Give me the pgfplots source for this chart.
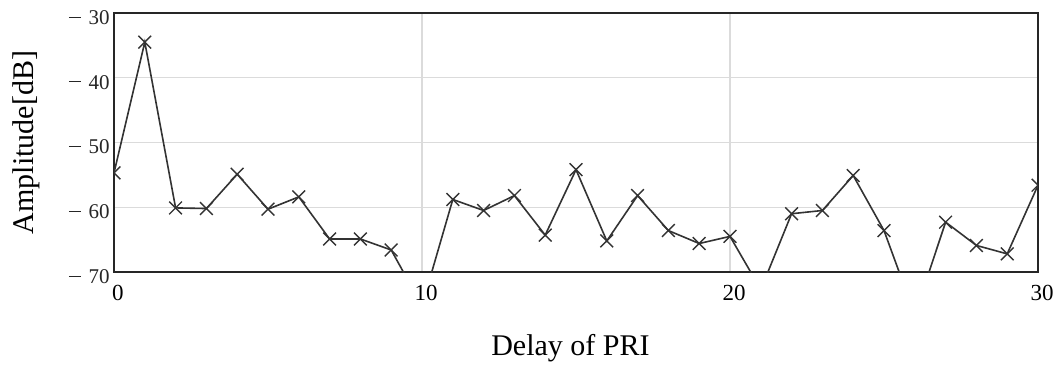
\documentclass[border=0pt]{standalone}
\usepackage{fontspec}
\setmainfont{Liberation Serif}
\usepackage{pgfplots}
\pgfplotsset{compat=1.18}

% amplitude of the correlation versus delay, in PRI steps
\pgfplotstableread{
d amp
0 -54.7
1 -34.5
2 -60.1
3 -60.2
4 -54.9
5 -60.3
6 -58.4
7 -64.9
8 -64.9
9 -66.6
10 -75.2
11 -58.8
12 -60.5
13 -58.2
14 -64.3
15 -54.2
16 -65.2
17 -58.2
18 -63.6
19 -65.6
20 -64.5
21 -72.7
22 -61.0
23 -60.5
24 -55.1
25 -63.6
26 -76.6
27 -62.3
28 -65.9
29 -67.2
30 -56.6
}\ampdata

% long minus sign followed by a gap, as in the tick labels
\newcommand{\negval}[1]{\rule[3.3pt]{5.8pt}{0.55pt}\hspace{4pt}#1}

\begin{document}
\begin{tikzpicture}
\begin{axis}[
  scale only axis,
  width=462pt, height=129.5pt,
  xmin=0, xmax=30, ymin=-70, ymax=-30,
  xtick={0,10,20,30},
  xticklabels={0,10,20,30},
  ytick={-70,-60,-50,-40,-30},
  yticklabels={\negval{70},\negval{60},\negval{50},\negval{40},\negval{30}},
  major tick length=0pt,
  grid=major,
  major grid style={draw=black!14, line width=0.6pt},
  axis line style={draw=black!85, line width=1pt},
  xticklabel style={font=\fontsize{11.5}{13}\selectfont,
    inner sep=0pt, anchor=north, yshift=-6.5pt, xshift=2pt},
  yticklabel style={font=\fontsize{10.5}{12}\selectfont, text=black!85,
    inner sep=0pt, anchor=east, xshift=-2pt, yshift=-2.2pt},
  label style={font=\fontsize{15}{18}\selectfont},
  xlabel={Delay of PRI},
  ylabel={Amplitude[dB]},
  xlabel style={at={(axis description cs:0.494,-0.293)}, anchor=center},
  ylabel style={at={(axis description cs:-0.0952,0.5)}, anchor=center, rotate=0},
  clip marker paths=true,
]
\addplot[color=black!80, line width=0.8pt, mark=x, mark size=4.5pt,
  mark options={line width=0.7pt}] table[x=d, y=amp] {\ampdata};
\end{axis}
\pgfresetboundingbox
\path[use as bounding box] ([shift={(-57pt,-48.5pt)}]current axis.south west)
  rectangle ([shift={(13pt,6.5pt)}]current axis.north east);
\end{tikzpicture}
\end{document}
